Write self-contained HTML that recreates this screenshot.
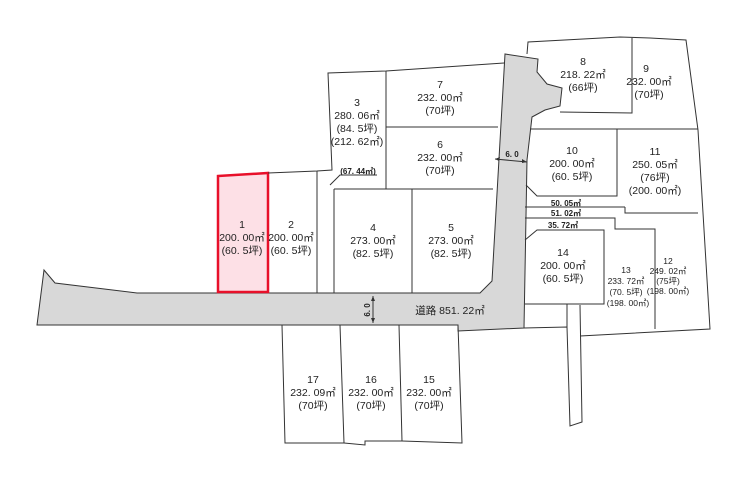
<!DOCTYPE html>
<html><head><meta charset="utf-8"><style>
html,body{margin:0;padding:0;background:#fff;width:750px;height:479px;overflow:hidden}
svg{display:block}
text{font-family:"Liberation Sans","Noto Sans CJK JP",sans-serif;font-size:10.5px;fill:#222;text-anchor:middle}
.s{font-size:8.5px}
.b{font-size:8px;font-weight:bold}
</style></head><body>
<svg width="750" height="479" viewBox="0 0 750 479" xmlns="http://www.w3.org/2000/svg">
<g fill="none" stroke="#333" stroke-width="1">
<!-- road -->
<path d="M44,270 L55,283 L137,293 L480,293 L492,281 L505,54 L538,59 L537,72 L547,84 L562,88 L560,106 L545,110 L532,117 L527,160 L524,328 L458,331 L458,325 L37,325 Z" fill="#d8d8d8" stroke="#333"/>
<!-- lot 1 -->
<path d="M218,176 L268,173 L268,292 L218,292 Z" fill="#fde0e6" stroke="#e8102a" stroke-width="2.5"/>
<!-- lot 2 / 3 -->
<path d="M268,173 L317,171 L332,170 L328,73 L386,71 L504,63"/>
<path d="M317,171 L317,293"/>
<path d="M386,71 L386,189"/>
<path d="M386,127 L498,127"/>
<path d="M334,189 L493,189"/>
<path d="M334,189 L334,293"/>
<path d="M412,189 L412,293"/>
<path d="M330,185 L340,175 L377,175"/>
<!-- right -->
<path d="M527,54 L528,42 L620,37 L650,38 L686,40 L698,130 L710,329 L580,336"/>
<path d="M632,38 L632,113 L560,112"/>
<path d="M530,129 L698,129"/>
<path d="M617,129 L617,196 L537,196 L526,185"/>
<path d="M625,207 L625,213 L698,213"/>
<path d="M525,207 L625,207"/>
<path d="M525,218 L615,218 L615,229 L655,229 L655,329"/>
<path d="M525,240 L537,230 L604,230 L604,304 L525,304"/>
<path d="M567,304 L567,327"/>
<path d="M524,328 L567,327 L570,426 L582,422 L580,305"/>
<!-- bottom lots -->
<path d="M282,325 L285,443 L344,443 L340,325"/>
<path d="M344,443 L365,445 L365,441 L402,441 L399,325"/>
<path d="M402,441 L462,443 L458,325"/>
<!-- dimension arrows -->
<path d="M495,159 L527,162"/>
<path d="M373,296 L373,323"/>
</g>
<g fill="#333">
<path d="M495,159 l5,-2 l-1,4z M527,162 l-5,-3 l0,4z"/>
<path d="M373,296 l-2,5 l4,0z M373,323 l-2,-5 l4,0z"/>
</g>
<!-- labels -->
<text x="242" y="228">1</text><text x="242" y="241">200. 00㎡</text><text x="242" y="254">(60. 5坪)</text>
<text x="291" y="228">2</text><text x="291" y="241">200. 00㎡</text><text x="291" y="254">(60. 5坪)</text>
<text x="357" y="106">3</text><text x="357" y="119">280. 06㎡</text><text x="357" y="132">(84. 5坪)</text><text x="357" y="145">(212. 62㎡)</text>
<text x="358" y="174" class="b">(67. 44㎡)</text>
<text x="373" y="231">4</text><text x="373" y="244">273. 00㎡</text><text x="373" y="257">(82. 5坪)</text>
<text x="451" y="231">5</text><text x="451" y="244">273. 00㎡</text><text x="451" y="257">(82. 5坪)</text>
<text x="440" y="88">7</text><text x="440" y="101">232. 00㎡</text><text x="440" y="114">(70坪)</text>
<text x="440" y="148">6</text><text x="440" y="161">232. 00㎡</text><text x="440" y="174">(70坪)</text>
<text x="583" y="65">8</text><text x="583" y="78">218. 22㎡</text><text x="583" y="91">(66坪)</text>
<text x="646" y="72">9</text><text x="649" y="85">232. 00㎡</text><text x="649" y="98">(70坪)</text>
<text x="572" y="154">10</text><text x="572" y="167">200. 00㎡</text><text x="572" y="180">(60. 5坪)</text>
<text x="655" y="155">11</text><text x="655" y="168">250. 05㎡</text><text x="655" y="181">(76坪)</text><text x="655" y="194">(200. 00㎡)</text>
<text x="566" y="206" class="b">50. 05㎡</text>
<text x="566" y="216" class="b">51. 02㎡</text>
<text x="563" y="228" class="b">35. 72㎡</text>
<text x="563" y="256">14</text><text x="563" y="269">200. 00㎡</text><text x="563" y="282">(60. 5坪)</text>
<text x="626" y="273" class="s">13</text><text x="626" y="284" class="s">233. 72㎡</text><text x="626" y="295" class="s">(70. 5坪)</text><text x="628" y="306" class="s">(198. 00㎡)</text>
<text x="668" y="264" class="s">12</text><text x="668" y="274" class="s">249. 02㎡</text><text x="668" y="284" class="s">(75坪)</text><text x="668" y="294" class="s">(198. 00㎡)</text>
<text x="313" y="383">17</text><text x="313" y="396">232. 09㎡</text><text x="313" y="409">(70坪)</text>
<text x="371" y="383">16</text><text x="371" y="396">232. 00㎡</text><text x="371" y="409">(70坪)</text>
<text x="429" y="383">15</text><text x="429" y="396">232. 00㎡</text><text x="429" y="409">(70坪)</text>
<text x="450" y="314">道路 851. 22㎡</text>
<text x="512" y="157" class="b">6. 0</text>
<text x="0" y="0" class="b" transform="translate(370,310) rotate(-90)">6. 0</text>
</svg>
</body></html>
